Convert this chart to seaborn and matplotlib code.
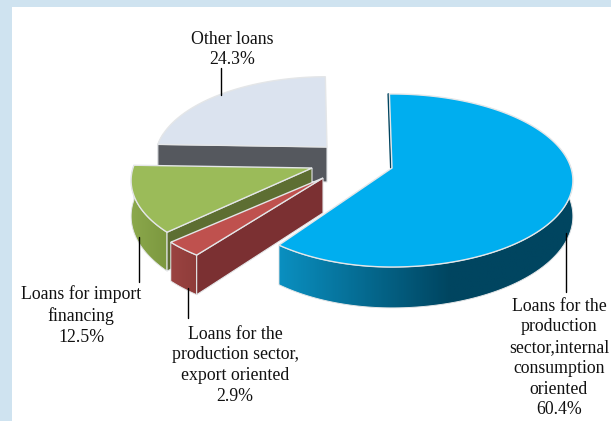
import numpy as np
import matplotlib
matplotlib.use("Agg")
import matplotlib.pyplot as plt
import seaborn as sns

sns.set_theme(style="white")
plt.rcParams['font.family'] = ['Liberation Serif', 'DejaVu Serif']

# ---- data
categories = ["Loans for the\nproduction\nsector,internal\nconsumption\noriented",
              "Loans for the\nproduction sector,\nexport oriented",
              "Loans for import\nfinancing",
              "Other loans"]
shares = [60.4, 2.9, 12.5, 24.3]

# ---- styles
top_colors = ["#00aeef", "#bf514e", "#9bbb59", "#dbe3ef"]
rim_left = ["#0a8fc0", "#9a4341", "#8ba84c", "#dbe3ef"]
rim_right = ["#004560", "#8f3c3a", "#7c983f", "#dbe3ef"]
wall_colors = ["#004560", "#7b3032", "#5d6e32", "#55585e"]
apex_x = [392, 323, 312, 327]
apex_y = [168, 178, 168, 147]
scales = [1.0, 1.0, 1.0, 0.95]
scale_left = [0.94, 1.05, 1.0, 1.0]
ramp_span = [0.58, 1.0, 1.0, 1.0]
label_x = [559, 235, 81, 232.5]
label_y = [297.5, 325.5, 285.5, 30.5]
leader_x = [566, 188, 139, 221]
leader_y0 = [233, 288, 237, 95]
leader_y1 = [292, 318, 282, 68]

RX, RY, PERSP, DEPTH = 179.0, 84.7, 0.1445, 35.0
START = 91.0
EDGE = "#e4e6e8"

W, H = 611, 421
fig = plt.figure(figsize=(W / 100, H / 100), dpi=100, facecolor="#cfe3f0")
ax = fig.add_axes([12 / W, 0, (W - 12) / W, (H - 7) / H], facecolor="white")
ax.set_xticks([]); ax.set_yticks([])
for s in ax.spines.values():
    s.set_visible(False)


def project(theta, i):
    t = np.radians(theta)
    u, v = np.cos(t), np.sin(t)
    w = 1 + PERSP * v
    sx = np.where(u < 0, scale_left[i], 1.0)
    return (apex_x[i] + scales[i] * sx * RX * u / w,
            apex_y[i] - scales[i] * RY * v / w,
            DEPTH / w)


angle = START
edges = []
for val in shares:
    edges.append((angle, angle - val * 3.6))
    angle -= val * 3.6

# far slices first
for i in [3, 2, 1, 0]:
    a0, a1 = edges[i]
    cx, cy = apex_x[i], apex_y[i]
    z = len(shares) - i
    # outer rim wall, shaded along x
    lo, hi = max(a1, -190.0), min(a0, 12.0)
    if hi > lo:
        th = np.linspace(lo, hi, 120)
        x, y, d = project(th, i)
        ramp = np.array(sns.blend_palette([rim_left[i], rim_right[i]], 128))
        pos = np.clip(np.linspace(0, 1, 256) / ramp_span[i], 0, 1)
        strip = ramp[(pos * 127).astype(int)][None, :, :]
        outline = ax.fill(np.r_[x, x[::-1]], np.r_[y, (y + d)[::-1]],
                          facecolor="none", edgecolor=EDGE, lw=0.7, zorder=z + 0.1)[0]
        im = ax.imshow(strip, extent=(x.min(), x.max(), (y + d).max(), y.min()),
                       aspect="auto", zorder=z, interpolation="bilinear")
        im.set_clip_path(outline)
    # cut wall on the leading edge
    ex, ey, ed = project(a0, i)
    ax.fill([cx, ex, ex, cx], [cy, ey, ey + ed, cy + DEPTH],
            facecolor=wall_colors[i], edgecolor=EDGE, lw=0.8, zorder=z + 0.2)
    # top face
    th = np.linspace(a0, a1, 160)
    x, y, _ = project(th, i)
    ax.fill(np.r_[cx, x], np.r_[cy, y], facecolor=top_colors[i],
            edgecolor=EDGE, lw=1.0, joinstyle="miter", zorder=z + 0.5)
    if i == 0:
        ax.plot([cx - 1.2, ex - 1.2], [cy, ey], color=wall_colors[0], lw=1.2, zorder=z + 0.4)

for i, (name, val) in enumerate(zip(categories, shares)):
    ax.plot([leader_x[i]] * 2, [leader_y0[i], leader_y1[i]], color="black", lw=1.0, zorder=10)
    ax.text(label_x[i], label_y[i], f"{name}\n{val}%", ha="center", va="top",
            fontsize=12.8, color="#111111", linespacing=1.29, zorder=11)

ax.set_xlim(12, W)
ax.set_ylim(H, 7)
fig.savefig("out.png", dpi=100, facecolor=fig.get_facecolor())
